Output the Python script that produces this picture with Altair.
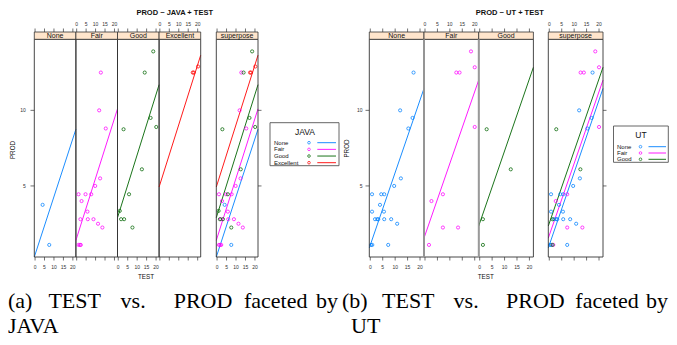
import altair as alt
import pandas as pd

# ---------------- values ----------------
java_levels = ["None", "Fair", "Good", "Excellent"]
ut_levels = ["None", "Fair", "Good"]
level_colors = ["#0080ff", "#ff00ff", "#006400", "#ff0000"]

java_none_test = [4.0, 7.5]
java_none_prod = [3.75, 1.1]
java_fair_test = [12.8, 11.9, 15.4, 12.4, 9.8, 1.0, 4.7, 7.7, 2.6, 5.7, 2.0, 5.9, 8.9, 11.3, 13.6, 1.0, 1.7, 2.2]
java_fair_prod = [12.5, 10.0, 8.8, 5.5, 5.0, 4.45, 4.45, 4.45, 4.0, 3.3, 2.8, 2.8, 2.8, 2.5, 2.25, 1.1, 1.1, 1.1]
java_good_test = [18.5, 14.0, 17.1, 20.1, 2.8, 12.5, 5.7, 0.8, 1.5, 3.1, 7.5]
java_good_prod = [13.9, 12.5, 9.5, 8.9, 8.75, 6.1, 4.45, 3.35, 2.8, 2.8, 2.25]
java_exc_test = [17.4, 17.9, 20.2]
java_exc_prod = [12.5, 12.5, 12.9]

ut_none_test = [17.4, 12.0, 17.0, 15.3, 12.3, 9.6, 0.7, 4.4, 5.6, 3.9, 0.7, 5.5, 1.9, 2.8, 3.2, 5.6, 8.4, 10.8, 0.3, 0.8, 7.2]
ut_none_prod = [12.5, 10.0, 9.5, 8.8, 5.5, 5.0, 4.45, 4.45, 4.45, 3.75, 3.3, 3.3, 2.8, 2.8, 2.8, 2.8, 2.8, 2.5, 1.1, 1.1, 1.1]
ut_fair_test = [18.5, 20.0, 12.6, 13.9, 20.0, 7.2, 2.6, 7.2, 13.3, 1.6]
ut_fair_prod = [13.9, 12.85, 12.5, 12.5, 8.9, 4.45, 4.0, 2.25, 2.25, 1.1]
ut_good_test = [2.8, 12.5, 1.3, 1.3]
ut_good_prod = [8.75, 6.1, 2.8, 1.1]

# fitted (additive model) lines: PROD at the two ends of the TEST range
line_test = [-0.4, 21.6]
java_line_start = [0.13, 1.4, 2.9, 4.93]
java_line_end = [8.75, 10.1, 11.7, 13.65]
ut_line_start = [0.9, 1.55, 2.35]
ut_line_end = [11.45, 12.0, 12.85]

x_ticks = [0, 5, 10, 15, 20]
y_ticks = [5, 10]

titles = ["PROD ~ JAVA + TEST", "PROD ~ UT + TEST"]
caption_a = ["(a) TEST vs. PROD faceted by", "JAVA"]
caption_b = ["(b) TEST vs. PROD faceted by", "UT"]

# ---------------- layout (page pixels) ----------------
OFF = 8
XDOM = [-0.4, 21.6]
YDOM = [0.3, 14.7]
PTOP, PBOT = 39.3, 257.0
STOP = 32.0
AX = "#333333"
FONT = "Liberation Sans"
L_EDGES = [34.3, 75.9, 117.5, 159.1, 200.7]
L_SUP = (216.3, 258.0)
R_EDGES = [369.3, 424.0, 478.7, 533.4]
R_SUP = (548.3, 603.0)
# x position of each word of the (justified) caption lines
CAP_A_X = [8.0, 48.4, 120.6, 173.7, 243.9, 316.0]
CAP_B_X = [342.0, 382.0, 453.6, 506.0, 575.3, 646.0]
CAP_A2_X, CAP_B2_X = 8.0, 351.0
CAP_Y1, CAP_Y2 = 308.0, 332.5
CAP_SIZE = 22

one = pd.DataFrame({"a": [0]})


def p(v):
    return v - OFF


def pts(tests, prods, grp):
    return pd.DataFrame({"TEST": tests, "PROD": prods, "grp": grp})


def lines_df(levels, starts, ends, only=None):
    rows = []
    for i, lv in enumerate(levels):
        if only is not None and lv != only:
            continue
        rows.append({"grp": lv, "TEST": line_test[0], "PROD": starts[i]})
        rows.append({"grp": lv, "TEST": line_test[1], "PROD": ends[i]})
    return pd.DataFrame(rows)


def text_layer(txt, x, y, size, weight="normal", align="center", angle=0, font=FONT,
               color="#111111", baseline="middle"):
    return alt.Chart(one).mark_text(
        fontSize=size, fontWeight=weight, align=align, baseline=baseline,
        angle=angle, font=font, color=color
    ).encode(text=alt.value(txt), x=alt.value(p(x)), y=alt.value(p(y)))


def panel(x0, x1, pdf, ldf, levels, label, top_lab=False, bot_lab=False,
          left_axis=None, right_ticks=False, frame_color=AX, frame_w=0.9):
    xs = alt.Scale(domain=XDOM, range=[p(x0), p(x1)], nice=False, zero=False)
    ys = alt.Scale(domain=YDOM, range=[p(PBOT), p(PTOP)], nice=False, zero=False, clamp=True)
    col = alt.Scale(domain=levels, range=level_colors[:len(levels)])
    L = []
    L.append(alt.Chart(ldf).mark_line(strokeWidth=0.9).encode(
        x=alt.X("TEST:Q", scale=xs, axis=None),
        y=alt.Y("PROD:Q", scale=ys, axis=None),
        color=alt.Color("grp:N", scale=col, legend=None),
        detail="grp:N"))
    L.append(alt.Chart(pdf).mark_point(shape="circle", filled=False, size=10, strokeWidth=0.75, opacity=1).encode(
        x=alt.X("TEST:Q", scale=xs, axis=None),
        y=alt.Y("PROD:Q", scale=ys, axis=None),
        color=alt.Color("grp:N", scale=col, legend=None)))
    # frame
    L.append(alt.Chart(one).mark_rect(fillOpacity=0, stroke=frame_color, strokeWidth=frame_w).encode(
        x=alt.value(p(x0)), x2=alt.value(p(x1)), y=alt.value(p(PTOP)), y2=alt.value(p(PBOT))))
    # strip
    L.append(alt.Chart(one).mark_rect(fill="#ffe5cc", stroke=AX, strokeWidth=0.8).encode(
        x=alt.value(p(x0)), x2=alt.value(p(x1)), y=alt.value(p(STOP)), y2=alt.value(p(PTOP))))
    L.append(alt.Chart(pd.DataFrame({"lab": [label]})).mark_text(
        fontSize=7, font=FONT, color="#111111", baseline="middle").encode(
        text="lab:N", x=alt.value(p((x0 + x1) / 2)), y=alt.value(p((STOP + PTOP) / 2 + 0.3))))
    tk = pd.DataFrame({"t": x_ticks})
    L.append(alt.Chart(tk).mark_rule(color=AX, strokeWidth=0.7).encode(
        x=alt.X("t:Q", scale=xs, axis=None), y=alt.value(p(STOP - 3.5)), y2=alt.value(p(STOP))))
    L.append(alt.Chart(tk).mark_rule(color=AX, strokeWidth=0.7).encode(
        x=alt.X("t:Q", scale=xs, axis=None), y=alt.value(p(PBOT)), y2=alt.value(p(PBOT + 3.5))))
    if top_lab:
        L.append(alt.Chart(tk).mark_text(fontSize=5, font=FONT, color=AX, baseline="middle").encode(
            x=alt.X("t:Q", scale=xs, axis=None), text="t:Q", y=alt.value(p(24.2))))
    if bot_lab:
        L.append(alt.Chart(tk).mark_text(fontSize=5, font=FONT, color=AX, baseline="middle").encode(
            x=alt.X("t:Q", scale=xs, axis=None), text="t:Q", y=alt.value(p(266.5))))
    yt = pd.DataFrame({"t": y_ticks})
    if left_axis is not None:
        L.append(alt.Chart(yt).mark_rule(color=AX, strokeWidth=0.7).encode(
            y=alt.Y("t:Q", scale=ys, axis=None), x=alt.value(p(x0 - 3.8)), x2=alt.value(p(x0))))
        L.append(alt.Chart(yt).mark_text(fontSize=5, font=FONT, color=AX, align="right", baseline="middle").encode(
            y=alt.Y("t:Q", scale=ys, axis=None), text="t:Q", x=alt.value(p(left_axis))))
    if right_ticks:
        L.append(alt.Chart(yt).mark_rule(color=AX, strokeWidth=0.7).encode(
            y=alt.Y("t:Q", scale=ys, axis=None), x=alt.value(p(x1)), x2=alt.value(p(x1 + 3.5))))
    return L


def legend(box, title, title_xy, levels, text_x, row_y, pt_x, ln_x):
    L = []
    col = alt.Scale(domain=levels, range=level_colors[:len(levels)])
    ysc = alt.Scale(type="point", domain=levels, range=[p(row_y[0]), p(row_y[1])], padding=0)
    df = pd.DataFrame({"lv": levels})
    L.append(alt.Chart(one).mark_rect(fill="white", stroke="#555555", strokeWidth=0.9).encode(
        x=alt.value(p(box[0])), x2=alt.value(p(box[1])), y=alt.value(p(box[2])), y2=alt.value(p(box[3]))))
    L.append(text_layer(title, title_xy[0], title_xy[1], 8.5))
    L.append(alt.Chart(df).mark_text(fontSize=6, font=FONT, color="#111111", align="left", baseline="middle").encode(
        y=alt.Y("lv:N", scale=ysc, axis=None), text="lv:N", x=alt.value(p(text_x))))
    L.append(alt.Chart(df).mark_point(shape="circle", filled=False, size=7, strokeWidth=0.7, opacity=1).encode(
        y=alt.Y("lv:N", scale=ysc, axis=None), x=alt.value(p(pt_x)),
        color=alt.Color("lv:N", scale=col, legend=None)))
    L.append(alt.Chart(df).mark_rule(strokeWidth=0.9).encode(
        y=alt.Y("lv:N", scale=ysc, axis=None), x=alt.value(p(ln_x[0])), x2=alt.value(p(ln_x[1])),
        color=alt.Color("lv:N", scale=col, legend=None)))
    return L


layers = []

# ---------------- left figure: JAVA ----------------
java_pts = [
    pts(java_none_test, java_none_prod, "None"),
    pts(java_fair_test, java_fair_prod, "Fair"),
    pts(java_good_test, java_good_prod, "Good"),
    pts(java_exc_test, java_exc_prod, "Excellent"),
]
for i, lv in enumerate(java_levels):
    layers += panel(L_EDGES[i], L_EDGES[i + 1], java_pts[i],
                    lines_df(java_levels, java_line_start, java_line_end, only=lv),
                    java_levels, lv,
                    top_lab=(i % 2 == 1), bot_lab=(i % 2 == 0),
                    left_axis=25.8 if i == 0 else None)
layers += panel(L_SUP[0], L_SUP[1], pd.concat(java_pts, ignore_index=True),
                lines_df(java_levels, java_line_start, java_line_end),
                java_levels, "superpose", top_lab=False, bot_lab=True, right_ticks=True)

# ---------------- right figure: UT ----------------
ut_pts = [
    pts(ut_none_test, ut_none_prod, "None"),
    pts(ut_fair_test, ut_fair_prod, "Fair"),
    pts(ut_good_test, ut_good_prod, "Good"),
]
for i, lv in enumerate(ut_levels):
    layers += panel(R_EDGES[i], R_EDGES[i + 1], ut_pts[i],
                    lines_df(ut_levels, ut_line_start, ut_line_end, only=lv),
                    ut_levels, lv,
                    top_lab=(i % 2 == 1), bot_lab=(i % 2 == 0),
                    left_axis=362.5 if i == 0 else None)
layers += panel(R_SUP[0], R_SUP[1], pd.concat(ut_pts, ignore_index=True),
                lines_df(ut_levels, ut_line_start, ut_line_end),
                ut_levels, "superpose", top_lab=True, bot_lab=False, right_ticks=True)
# thicker grey inner borders of the right figure
for xb in R_EDGES[1:3]:
    layers.append(alt.Chart(one).mark_rule(color="#9a9a9a", strokeWidth=1.8).encode(
        x=alt.value(p(xb)), y=alt.value(p(PTOP)), y2=alt.value(p(PBOT))))

# ---------------- titles, axis titles ----------------
layers.append(text_layer(titles[0], 174.7, 12.6, 7.5, weight="bold"))
layers.append(text_layer(titles[1], 509.8, 12.6, 7.5, weight="bold"))
layers.append(text_layer("TEST", 146.0, 277.3, 6.3))
layers.append(text_layer("TEST", 485.7, 277.3, 6.3))
layers.append(text_layer("PROD", 12.8, 150.0, 6.3, angle=270))
layers.append(text_layer("PROD", 347.3, 148.5, 6.3, angle=270))

# ---------------- legends ----------------
layers += legend((270.0, 339.0, 122.7, 165.7), "JAVA", (305.0, 131.8), java_levels,
                 274.0, (142.7, 162.7), 309.0, (317.3, 336.0))
layers += legend((613.5, 668.3, 126.0, 162.3), "UT", (641.0, 135.0), ut_levels,
                 617.0, (146.7, 159.3), 640.5, (648.5, 666.0))

# ---------------- captions (justified word by word) ----------------
SERIF = "Liberation Serif"
for cap, xs1, x2 in ((caption_a, CAP_A_X, CAP_A2_X), (caption_b, CAP_B_X, CAP_B2_X)):
    for word, xw in zip(cap[0].split(" "), xs1):
        layers.append(text_layer(word, xw, CAP_Y1, CAP_SIZE, align="left", font=SERIF,
                                 color="#000000", baseline="alphabetic"))
    layers.append(text_layer(cap[1], x2, CAP_Y2, CAP_SIZE, align="left", font=SERIF,
                             color="#000000", baseline="alphabetic"))

chart = alt.layer(*layers).resolve_scale(
    x="independent", y="independent", color="independent"
).properties(
    width=661, height=329, padding=0,
    autosize=alt.AutoSizeParams(type="none"),
    background="white",
).configure_view(strokeWidth=0)

chart.save("out.html", embed_options={"renderer": "svg", "actions": False})
